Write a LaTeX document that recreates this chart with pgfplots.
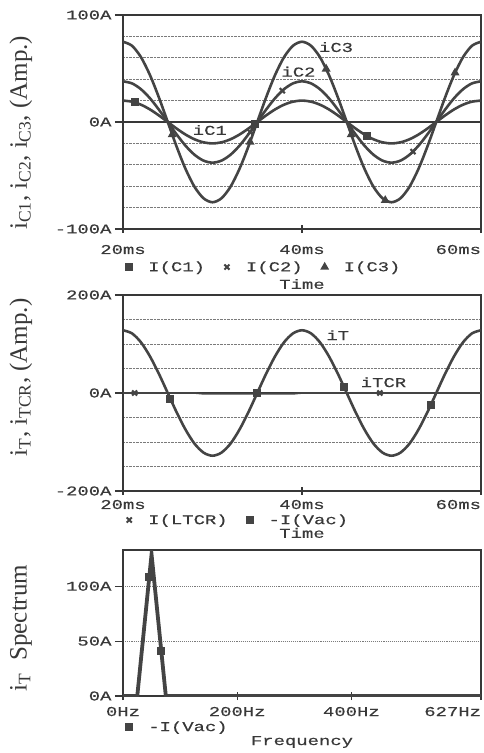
\documentclass[border=0pt]{standalone}
\usepackage{pgfplots}
\pgfplotsset{compat=1.18}
\usepackage{pgfplotstable}
\usepackage{fontspec}
\setmainfont{Liberation Serif}
\newfontfamily\pmono[FakeStretch=1.4, FakeBold=0.4]{Liberation Mono}
\newcommand\psfont{\pmono\fontsize{13.5}{15}\selectfont}

\definecolor{ink}{HTML}{383838}
\definecolor{tracec}{HTML}{444444}
\definecolor{gridc}{HTML}{7A7A7A}

% capacitor currents, 50 Hz, one sample per ms
\pgfplotstableread{
t  c1    c2    c3
20 20.0  38.0  75.0
21 19.0  36.1  71.3
22 16.2  30.7  60.7
23 11.8  22.3  44.1
24 6.2   11.7  23.2
25 0.0   0.0   0.0
26 -6.2  -11.7 -23.2
27 -11.8 -22.3 -44.1
28 -16.2 -30.7 -60.7
29 -19.0 -36.1 -71.3
30 -20.0 -38.0 -75.0
31 -19.0 -36.1 -71.3
32 -16.2 -30.7 -60.7
33 -11.8 -22.3 -44.1
34 -6.2  -11.7 -23.2
35 0.0   0.0   0.0
36 6.2   11.7  23.2
37 11.8  22.3  44.1
38 16.2  30.7  60.7
39 19.0  36.1  71.3
40 20.0  38.0  75.0
41 19.0  36.1  71.3
42 16.2  30.7  60.7
43 11.8  22.3  44.1
44 6.2   11.7  23.2
45 0.0   0.0   0.0
46 -6.2  -11.7 -23.2
47 -11.8 -22.3 -44.1
48 -16.2 -30.7 -60.7
49 -19.0 -36.1 -71.3
50 -20.0 -38.0 -75.0
51 -19.0 -36.1 -71.3
52 -16.2 -30.7 -60.7
53 -11.8 -22.3 -44.1
54 -6.2  -11.7 -23.2
55 0.0   0.0   0.0
56 6.2   11.7  23.2
57 11.8  22.3  44.1
58 16.2  30.7  60.7
59 19.0  36.1  71.3
60 20.0  38.0  75.0
}\capcur

% total current and TCR current
\pgfplotstableread{
t  iT     iTCR
20 128.0  0
21 121.7  0
22 103.6  0
23 75.2   0
24 39.6   0
25 0.0    0
26 -39.6  0
27 -75.2  0
28 -103.6 0
29 -121.7 -1.5
30 -128.0 -1.5
31 -121.7 -1.5
32 -103.6 -1.5
33 -75.2  -1.5
34 -39.6  -1.5
35 0.0    -1.5
36 39.6   -1.5
37 75.2   -1.5
38 103.6  -1.5
39 121.7  -1.5
40 128.0  0
41 121.7  0
42 103.6  0
43 75.2   0
44 39.6   0
45 0.0    0
46 -39.6  0
47 -75.2  0
48 -103.6 0
49 -121.7 0
50 -128.0 0
51 -121.7 0
52 -103.6 0
53 -75.2  0
54 -39.6  0
55 0.0    0
56 39.6   0
57 75.2   0
58 103.6  0
59 121.7  0
60 128.0  0
}\totcur

% FFT of the source current
\pgfplotstableread{
f   A
0   0
25  0
50  129
75  0
100 0
200 0
400 0
627 0
}\spec

\pgfplotsset{
  curve/.style={tracec, line width=2.6pt, smooth, no marks},
  mk/.style={only marks, tracec, mark options={solid, fill=tracec, draw=tracec, line width=1.4pt}},
  pspice/.style={
    scale only axis, width=358pt, anchor=south west,
    axis line style={ink, line width=1.2pt},
    every tick/.style={ink, line width=1.2pt},
    major tick length=8pt, minor tick length=0pt,
    ytick align=outside, xtick align=center,
    xtick pos=bottom, ytick pos=left,
    ticklabel style={font=\psfont, text=ink},
    xlabel style={font=\psfont, text=ink},
    yminorgrids, ymajorgrids,
    minor grid style={gridc, densely dotted, line width=0.9pt},
    major grid style={ink, line width=1.1pt},
    legend style={draw=none, fill=none, font=\psfont, text=ink, inner sep=0pt,
      nodes={inner sep=0pt},
      /tikz/every even column/.append style={column sep=17pt}},
    legend columns=-1,
    legend image code/.code={\draw[draw=none] (0pt,-2pt) rectangle (24pt,2pt);
      \draw[##1] plot coordinates {(5pt,0pt)};},
    ylabel style={font=\fontsize{25}{28}\selectfont, text=ink, anchor=center},
  },
}

\begin{document}
\begin{tikzpicture}
\useasboundingbox (0,0) rectangle (484pt,753pt);

% ---- capacitor branch currents ----
\begin{axis}[pspice, at={(123pt,524pt)}, height=214pt,
  xmin=20, xmax=60, ymin=-100, ymax=100,
  xtick={20,40,60}, xticklabels={20ms,40ms,\makebox[0pt][r]{60ms}},
  ytick={-100,0,100}, yticklabels={-100A,0A,100A},
  minor ytick={-80,-60,-40,-20,20,40,60,80},
  xticklabel style={anchor=base, yshift=-21pt},
  xlabel={Time}, xlabel style={at={(axis description cs:0.5,-0.257)}, anchor=center},
  ylabel={i\textsubscript{C1}, i\textsubscript{C2}, i\textsubscript{C3}, (Amp.)},
  ylabel style={at={(axis description cs:-0.285,0.45)}},
  legend style={at={(axis description cs:0.003,-0.178)}, anchor=west},
]
\addplot[curve, forget plot] table[x=t, y=c1] {\capcur};
\addplot[curve, forget plot] table[x=t, y=c2] {\capcur};
\addplot[curve, forget plot] table[x=t, y=c3] {\capcur};
\addplot[mk, mark=square*, mark size=3.3pt] coordinates {(21.3,18.4) (34.7,-1.9) (47.3,-13.2)};
\addlegendentry{I(C1)}
\addplot[mk, mark=x, mark size=3.6pt, mark options={line width=2pt}] coordinates {(34.2,-9.5) (37.8,29.3) (52.4,-27.7)};
\addlegendentry{I(C2)}
\addplot[mk, mark=triangle*, mark size=3.8pt] coordinates {(25.5,-11.7) (34.2,-18.7) (42.7,49.6) (45.5,-11.7) (49.3,-73.2) (57.1,46.0)};
\addlegendentry{I(C3)}
\node[font=\psfont, text=ink] at (axis cs:43.8,70) {iC3};
\node[font=\psfont, text=ink] at (axis cs:39.6,47) {iC2};
\node[font=\psfont, text=ink] at (axis cs:29.7,-7.5) {iC1};
\end{axis}

% ---- total and TCR currents ----
\begin{axis}[pspice, at={(123pt,262pt)}, height=196pt,
  xmin=20, xmax=60, ymin=-200, ymax=200,
  xtick={20,40,60}, xticklabels={20ms,40ms,\makebox[0pt][r]{60ms}},
  ytick={-200,0,200}, yticklabels={-200A,0A,200A},
  minor ytick={-150,-100,-50,50,100,150},
  xticklabel style={anchor=base, yshift=-14pt},
  xlabel={Time}, xlabel style={at={(axis description cs:0.5,-0.214)}, anchor=center},
  ylabel={i\textsubscript{T}, i\textsubscript{TCR}, (Amp.)},
  ylabel style={at={(axis description cs:-0.285,0.58)}},
  legend style={at={(axis description cs:0.003,-0.148)}, anchor=west},
]
\addplot[curve, forget plot, line width=1.8pt] table[x=t, y=iTCR] {\totcur};
\addplot[curve, forget plot] table[x=t, y=iT] {\totcur};
\addplot[mk, mark=x, mark size=3.6pt, mark options={line width=2pt}] coordinates {(21.3,0) (48.7,0)};
\addlegendentry{I(LTCR)}
\addplot[mk, mark=square*, mark size=3.3pt] coordinates {(25.3,-12.0) (35.0,0) (44.7,12.0) (54.4,-24.0)};
\addlegendentry{-I(Vac)}
\node[font=\psfont, text=ink] at (axis cs:44.0,118) {iT};
\node[font=\psfont, text=ink] at (axis cs:49.1,22) {iTCR};
\end{axis}

% ---- spectrum of the total current ----
\begin{axis}[pspice, at={(123pt,57pt)}, height=146pt,
  xmin=0, xmax=627, ymin=0, ymax=133,
  xtick={0,200,400,627}, xticklabels={0Hz,200Hz,400Hz,\makebox[0pt][r]{627Hz}},
  ytick={0,50,100}, yticklabels={0A,50A,100A},
  major grid style={gridc, densely dotted, line width=0.9pt},
  xticklabel style={anchor=base, yshift=-16pt},
  xlabel={Frequency}, xlabel style={at={(axis description cs:0.5,-0.315)}, anchor=center},
  ylabel={i\textsubscript{T}\ \ Spectrum},
  ylabel style={at={(axis description cs:-0.285,0.466)}},
  legend style={at={(axis description cs:0.003,-0.212)}, anchor=west},
]
\addplot[curve, forget plot, line width=3.8pt, sharp plot] table[x=f, y=A] {\spec};
\addplot[mk, mark=square*, mark size=3.3pt] coordinates {(46,108.4) (67,41.3)};
\addlegendentry{-I(Vac)}
\end{axis}
\end{tikzpicture}
\end{document}
